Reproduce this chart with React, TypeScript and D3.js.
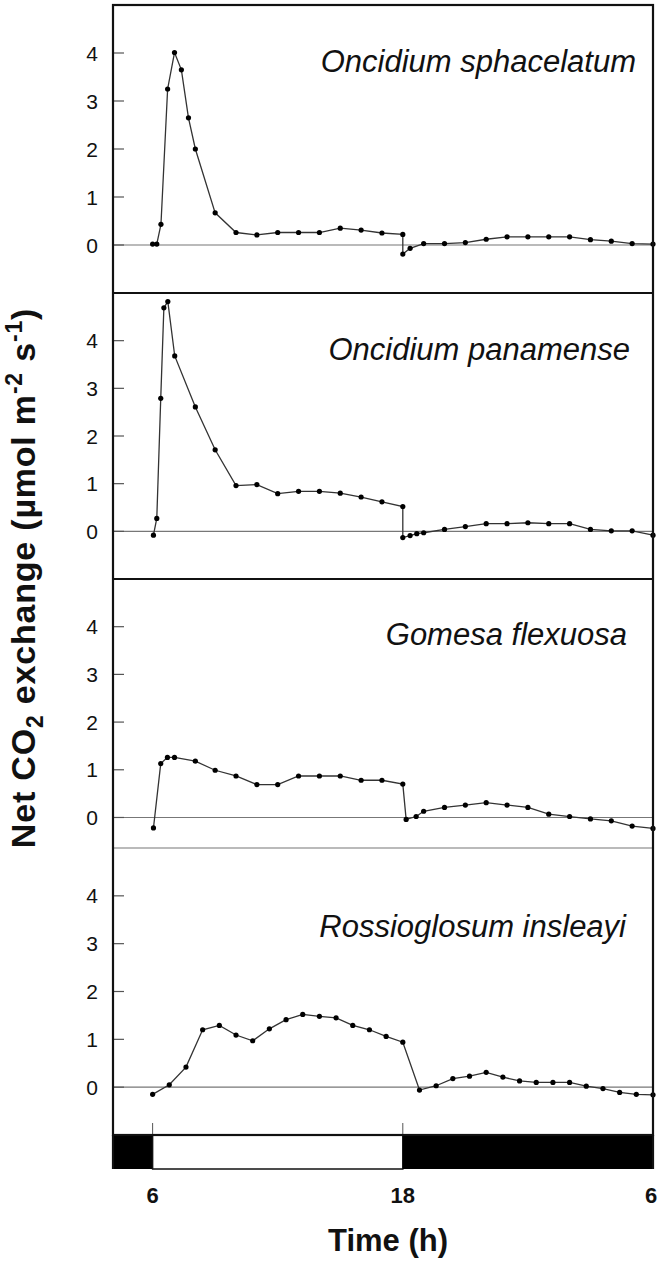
import React from 'react';
import * as d3 from 'd3';

// species names, top to bottom
const species = ['Oncidium sphacelatum', 'Oncidium panamense', 'Gomesa flexuosa', 'Rossioglosum insleayi'];

// time of day (h, 30 = 6 h next morning) and net CO2 exchange for each species
const sphacelatumT = [6.0, 6.2, 6.4, 6.72, 7.05, 7.38, 7.72, 8.05, 9, 10, 11, 12, 13, 14, 15, 16, 17, 18, 18, 18.35, 19, 20, 21, 22, 23, 24, 25, 26, 27, 28, 29, 30];
const sphacelatumV = [0.02, 0.02, 0.43, 3.25, 4.01, 3.65, 2.65, 2.0, 0.67, 0.26, 0.21, 0.26, 0.26, 0.26, 0.35, 0.31, 0.25, 0.22, -0.19, -0.07, 0.03, 0.03, 0.05, 0.12, 0.17, 0.17, 0.17, 0.17, 0.11, 0.08, 0.03, 0.02];

const panamenseT = [6.04, 6.2, 6.39, 6.54, 6.73, 7.06, 8.05, 9, 10, 11, 12, 13, 14, 15, 16, 17, 18, 18, 18.35, 18.67, 19, 20, 21, 22, 23, 24, 25, 26, 27, 28, 29, 30];
const panamenseV = [-0.08, 0.27, 2.79, 4.69, 4.82, 3.68, 2.61, 1.71, 0.96, 0.98, 0.79, 0.84, 0.84, 0.8, 0.72, 0.62, 0.52, -0.13, -0.09, -0.05, -0.03, 0.04, 0.1, 0.16, 0.16, 0.18, 0.16, 0.16, 0.04, 0.01, 0.01, -0.08];

const gomesaT = [6.04, 6.39, 6.71, 7.05, 8.05, 9, 10, 11, 12, 13, 14, 15, 16, 17, 18, 18.16, 18.64, 19, 20, 21, 22, 23, 24, 25, 26, 27, 28, 29, 30];
const gomesaV = [-0.22, 1.13, 1.26, 1.26, 1.18, 0.99, 0.87, 0.69, 0.69, 0.87, 0.87, 0.87, 0.78, 0.78, 0.7, -0.04, 0.02, 0.13, 0.21, 0.26, 0.31, 0.26, 0.21, 0.07, 0.02, -0.03, -0.07, -0.18, -0.23];

const rossioT = [6.0, 6.8, 7.6, 8.4, 9.2, 10.0, 10.8, 11.6, 12.4, 13.2, 14.0, 14.8, 15.6, 16.4, 17.2, 18.0, 18.8, 19.6, 20.4, 21.2, 22.0, 22.8, 23.6, 24.4, 25.2, 26.0, 26.8, 27.6, 28.4, 29.2, 30.0];
const rossioV = [-0.15, 0.05, 0.42, 1.2, 1.29, 1.09, 0.97, 1.22, 1.41, 1.52, 1.48, 1.45, 1.29, 1.2, 1.06, 0.94, -0.06, 0.03, 0.18, 0.23, 0.31, 0.21, 0.13, 0.1, 0.1, 0.1, 0.02, -0.03, -0.11, -0.15, -0.16];

const yTicks = [0, 1, 2, 3, 4];
const xTicks = [6, 18, 30];
const xTickLabels = ['6', '18', '6'];
const lightOn = 6;
const lightOff = 18;

// layout
const W = 660;
const H = 1262;
const left = 113;
const right = 653;
const panelTops = [5, 293, 579, 848];
const panelBottoms = [293, 579, 848, 1135];
const panelYMin = [-1, -1, -0.64, -1];
const labelRight = [636, 630, 627, 626];
const labelBase = [72, 360, 645, 937];
const barTop = 1135;
const barBottom = 1169;
const font = '"Liberation Sans", Arial, Helvetica, sans-serif';

const series = [
  { t: sphacelatumT, v: sphacelatumV },
  { t: panamenseT, v: panamenseV },
  { t: gomesaT, v: gomesaV },
  { t: rossioT, v: rossioV },
];

export default function App() {
  const x = d3.scaleLinear().domain([4.1, 30]).range([left, right]);

  return (
    <svg width={W} height={H} style={{ position: 'absolute', left: 0, top: 0, background: '#fff' }} fontFamily={font}>
      {series.map((s, i) => {
        const y = d3.scaleLinear().domain([panelYMin[i], 5]).range([panelBottoms[i], panelTops[i]]);
        const pts = s.t.map((t, j) => [t, s.v[j]] as [number, number]);
        const line = d3.line<[number, number]>().x((d) => x(d[0])).y((d) => y(d[1]));
        return (
          <g key={i}>
            <line x1={left} x2={right} y1={y(0)} y2={y(0)} stroke="#777" strokeWidth={1.2} />
            {yTicks.map((tk) => (
              <g key={tk}>
                <line x1={left} x2={left + 11} y1={y(tk)} y2={y(tk)} stroke="#555" strokeWidth={1.2} />
                <text x={98} y={y(tk) + 7.5} fontSize={21} textAnchor="end" fill="#111">{tk}</text>
              </g>
            ))}
            <path d={line(pts) || ''} fill="none" stroke="#333" strokeWidth={1.3} />
            {pts.map((p, j) => (
              <circle key={j} cx={x(p[0])} cy={y(p[1])} r={2.6} fill="#000" />
            ))}
            <text x={labelRight[i]} y={labelBase[i]} fontSize={31} fontStyle="italic" textAnchor="end" fill="#111">
              {species[i]}
            </text>
          </g>
        );
      })}

      {/* panel separators */}
      <line x1={left} x2={right} y1={panelBottoms[0]} y2={panelBottoms[0]} stroke="#111" strokeWidth={2.2} />
      <line x1={left} x2={right} y1={panelBottoms[1]} y2={panelBottoms[1]} stroke="#111" strokeWidth={2.2} />
      <line x1={left} x2={right} y1={panelBottoms[2]} y2={panelBottoms[2]} stroke="#777" strokeWidth={1.2} />

      {/* light / dark bar */}
      <rect x={left} y={barTop} width={x(lightOn) - left} height={barBottom - barTop} fill="#000" />
      <rect x={x(lightOn)} y={barTop} width={x(lightOff) - x(lightOn)} height={barBottom - barTop} fill="#fff" stroke="#111" strokeWidth={1.5} />
      <rect x={x(lightOff)} y={barTop} width={right - x(lightOff)} height={barBottom - barTop} fill="#000" />
      {xTicks.slice(0, 2).map((tk) => (
        <line key={tk} x1={x(tk)} x2={x(tk)} y1={barTop} y2={barTop - 12} stroke="#555" strokeWidth={1} />
      ))}

      {/* outer frame */}
      <rect x={left} y={panelTops[0]} width={right - left} height={barTop - panelTops[0]} fill="none" stroke="#111" strokeWidth={2.2} />
      <line x1={left} x2={left} y1={barTop} y2={barBottom} stroke="#111" strokeWidth={2.2} />
      <line x1={right} x2={right} y1={barTop} y2={barBottom} stroke="#111" strokeWidth={2.2} />

      {/* x tick labels */}
      {xTicks.map((tk, i) => (
        <text key={tk} x={x(tk) - (i === 2 ? 2 : 0)} y={1203} fontSize={22} fontWeight="bold" textAnchor="middle" fill="#111">
          {xTickLabels[i]}
        </text>
      ))}
      <text x={388} y={1251} fontSize={31} fontWeight="bold" textAnchor="middle" fill="#111">Time (h)</text>

      {/* y title */}
      <text transform="translate(35,578) rotate(-90)" fontSize={34} fontWeight="bold" letterSpacing={0.8} textAnchor="middle" fill="#111">
        Net CO<tspan fontSize={23} dy={8}>2</tspan>
        <tspan dy={-8}> exchange (µmol m</tspan>
        <tspan fontSize={23} dy={-13}>-2</tspan>
        <tspan dy={13}> s</tspan>
        <tspan fontSize={23} dy={-13}>-1</tspan>
        <tspan dy={13}>)</tspan>
      </text>
    </svg>
  );
}
